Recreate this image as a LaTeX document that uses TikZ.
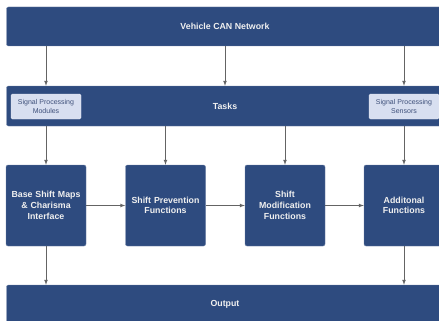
\documentclass[tikz,border=0pt]{standalone}
\usepackage{fontspec}
\setmainfont{Liberation Sans}
\usetikzlibrary{arrows}
\definecolor{canblue}{RGB}{46,75,127}
\definecolor{sigfill}{RGB}{216,223,240}
\definecolor{sigtext}{RGB}{62,80,122}
\definecolor{wire}{RGB}{100,100,100}

\begin{document}
\begin{tikzpicture}[x=1pt, y=-1pt, >=latex,
	bar/.style={fill=canblue, draw=canblue!70!white, line width=0.4pt,
		rounded corners=2pt, text=white!94!black,
		font=\bfseries\fontsize{8.8}{10.7}\selectfont,
		minimum width=437pt, inner sep=0pt},
	fn/.style={fill=canblue, draw=canblue!70!white, line width=0.4pt,
		rounded corners=2pt, text=white!94!black,
		font=\bfseries\fontsize{8.8}{10.7}\selectfont, align=center,
		text width=76pt, inner sep=2pt, minimum height=81pt},
	sig/.style={fill=sigfill, draw=sigfill!60!white, line width=0.4pt,
		rounded corners=1.5pt, text=sigtext,
		font=\fontsize{7}{8.3}\selectfont, align=center,
		minimum width=70pt, minimum height=25pt, inner sep=1pt},
	link/.style={draw=wire, line width=0.7pt, ->}]
\useasboundingbox (0,0) rectangle (439,321);
\clip (0,0) rectangle (439,321);

\node[bar, minimum height=39pt] (can) at (225, 26.5) {Vehicle CAN Network};
\node[bar, minimum height=40pt] (tasks) at (225, 106) {Tasks};
\node[bar, minimum height=38pt] (out) at (225, 304) {Output};

\node[sig] (mods) at (46, 106.5) {Signal Processing\\Modules};
\node[sig] (sens) at (404, 106.5) {Signal Processing\\Sensors};

\node[fn] (base) at (46, 205.5) {Base Shift Maps\\\& Charisma\\Interface};
\node[fn] (prev) at (165.5, 205.5) {Shift Prevention\\Functions};
\node[fn] (modf) at (285, 205.5) {Shift\\Modification\\Functions};
\node[fn] (addf) at (404, 205.5) {Additonal\\Functions};

% network to tasks
\draw[link] (can.south -| mods) -- (tasks.north -| mods);
\draw[link] (can.south) -- (tasks.north);
\draw[link] (can.south -| sens) -- (tasks.north -| sens);

% tasks to functions
\foreach \f in {base, prev, modf, addf}
\draw[link] (tasks.south -| \f) -- (\f.north);

% along the chain
\foreach \a/\b in {base/prev, prev/modf, modf/addf}
\draw[link] (\a.east) -- (\b.west);

% functions to output
\draw[link] (base.south) -- (out.north -| base);
\draw[link] (addf.south) -- (out.north -| addf);

\end{tikzpicture}
\end{document}
